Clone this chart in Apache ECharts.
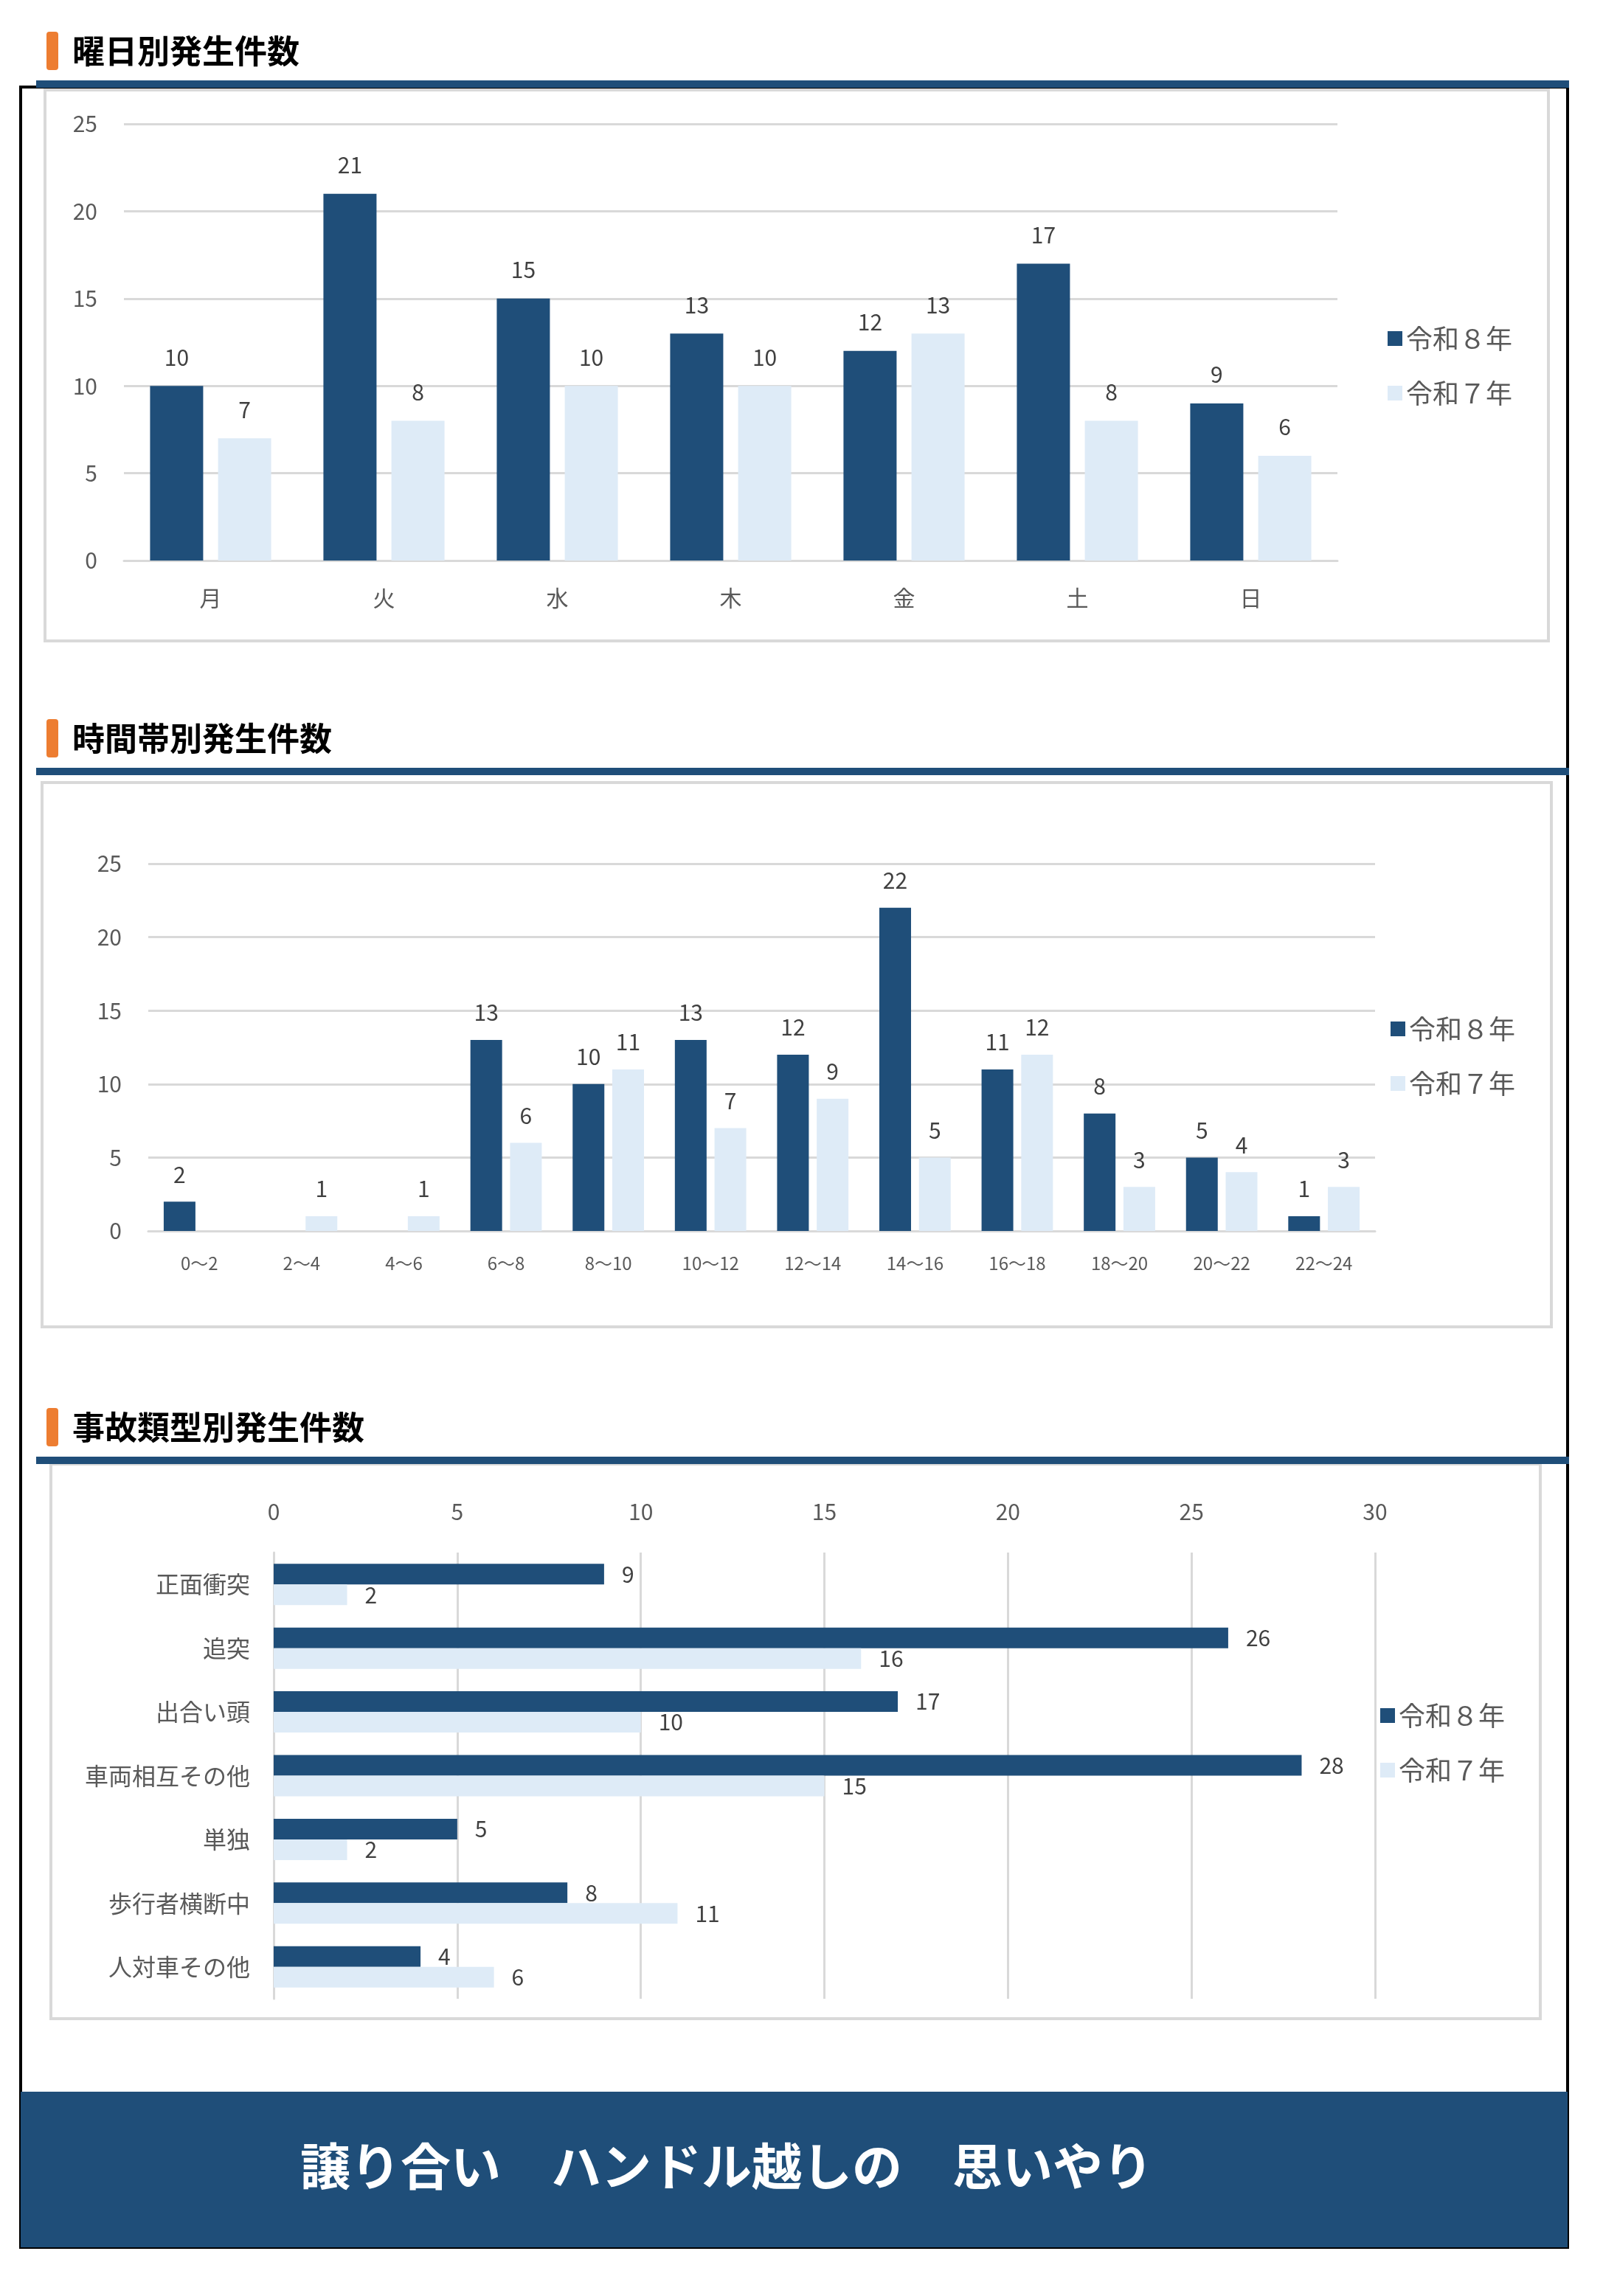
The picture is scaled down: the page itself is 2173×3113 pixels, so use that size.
<!DOCTYPE html>
<html><head><meta charset="utf-8">
<script src="https://cdn.jsdelivr.net/npm/echarts@6/dist/echarts.min.js"></script>
<style>html,body{margin:0;padding:0;background:#fff}#c{width:2173px;height:3113px}</style>
</head><body><div id="c"></div>
<script>
const seriesNames = ['令和８年','令和７年'];
const dayCats = ['月','火','水','木','金','土','日'];
const dayR8 = [10,21,15,13,12,17,9];
const dayR7 = [7,8,10,10,13,8,6];
const timeCats = ['0～2','2～4','4～6','6～8','8～10','10～12','12～14','14～16','16～18','18～20','20～22','22～24'];
const timeR8 = [2,0,0,13,10,13,12,22,11,8,5,1];
const timeR7 = [0,1,1,6,11,7,9,5,12,3,4,3];
const typeCats = ['正面衝突','追突','出合い頭','車両相互その他','単独','歩行者横断中','人対車その他'];
const typeR8 = [9,26,17,28,5,8,4];
const typeR7 = [2,16,10,15,2,11,6];

const DARK='#1f4e79', LIGHT='#deebf7', GRID='#d9d9d9', TXT='#404040';
const FF='"Noto Sans CJK JP", sans-serif';
const chart = echarts.init(document.getElementById('c'));

function lbl(pos,d){return {show:true,position:pos,distance:d,fontSize:30,color:TXT,fontFamily:FF,formatter:p=>p.value===0?'':p.value};}
function title(y,text){
  return [
    {type:'rect',shape:{x:63,y:y-26,width:16,height:52,r:4},style:{fill:'#ed7d31'}},
    {type:'text',x:98,y:y,style:{text:text,fontSize:44,fontWeight:'bold',fontFamily:FF,fill:'#000',textVerticalAlign:'middle'}},
    {type:'rect',shape:{x:49,y:y+40,width:2078,height:10},style:{fill:DARK}}
  ];
}
const graphic = [
  {type:'rect',shape:{x:28,y:118,width:2097,height:2929},style:{fill:'none',stroke:'#000',lineWidth:4},z:-1},
  {type:'rect',shape:{x:61,y:122,width:2038,height:747},style:{fill:'none',stroke:'#d9d9d9',lineWidth:4}},
  {type:'rect',shape:{x:57,y:1061,width:2046,height:738},style:{fill:'none',stroke:'#d9d9d9',lineWidth:4}},
  {type:'rect',shape:{x:69,y:1985,width:2019,height:752},style:{fill:'none',stroke:'#d9d9d9',lineWidth:4}},
  ...title(69,'曜日別発生件数'),
  ...title(1001,'時間帯別発生件数'),
  ...title(1935,'事故類型別発生件数'),
  {type:'rect',shape:{x:28,y:2836,width:2097,height:211},style:{fill:DARK}},
  {type:'text',x:985,y:2937,style:{text:'譲り合い　ハンドル越しの　思いやり',fontSize:68,fontWeight:'bold',fontFamily:FF,fill:'#fff',textAlign:'center',textVerticalAlign:'middle'}}
];
const axLab={fontSize:30,color:'#595959',fontFamily:FF};
const legendBase={orient:'vertical',itemWidth:20,itemHeight:20,itemGap:38,textStyle:{fontSize:36,color:'#595959',fontFamily:FF},data:seriesNames,icon:'rect'};

chart.setOption({
  animation:false,
  graphic:graphic,
  legend:[
    Object.assign({left:1876,top:436},legendBase),
    Object.assign({left:1880,top:1372},legendBase),
    Object.assign({left:1866,top:2303},legendBase)
  ],
  grid:[
    {left:168,right:2173-1813,top:168,height:592},
    {left:201,right:2173-1864,top:1171,height:498},
    {left:371,right:2173-1864,top:2105,height:605}
  ],
  xAxis:[
    {gridIndex:0,type:'category',data:dayCats,axisTick:{show:false},axisLine:{lineStyle:{color:GRID,width:3}},axisLabel:Object.assign({margin:36},axLab)},
    {gridIndex:1,type:'category',data:timeCats,axisTick:{show:false},axisLine:{lineStyle:{color:GRID,width:3}},axisLabel:Object.assign({margin:32},axLab,{fontSize:24})},
    {gridIndex:2,type:'value',position:'top',min:0,max:30,interval:5,axisLabel:Object.assign({margin:40},axLab),splitLine:{lineStyle:{color:GRID,width:3}}}
  ],
  yAxis:[
    {gridIndex:0,type:'value',min:0,max:25,interval:5,axisLabel:Object.assign({margin:36},axLab),splitLine:{lineStyle:{color:GRID,width:3}}},
    {gridIndex:1,type:'value',min:0,max:25,interval:5,axisLabel:Object.assign({margin:36},axLab),splitLine:{lineStyle:{color:GRID,width:3}}},
    {gridIndex:2,type:'category',inverse:true,data:typeCats,axisTick:{show:false},axisLine:{show:true,lineStyle:{color:GRID,width:3}},axisLabel:Object.assign({margin:32},axLab,{fontSize:32})}
  ],
  series:[
    {name:seriesNames[0],type:'bar',xAxisIndex:0,yAxisIndex:0,data:dayR8,barWidth:72,barGap:'28%',itemStyle:{color:DARK},label:lbl('top',24)},
    {name:seriesNames[1],type:'bar',xAxisIndex:0,yAxisIndex:0,data:dayR7,barWidth:72,barGap:'28%',itemStyle:{color:LIGHT},label:lbl('top',24)},
    {name:seriesNames[0],type:'bar',xAxisIndex:1,yAxisIndex:1,data:timeR8,barWidth:43,barGap:'25%',itemStyle:{color:DARK},label:lbl('top',22)},
    {name:seriesNames[1],type:'bar',xAxisIndex:1,yAxisIndex:1,data:timeR7,barWidth:43,barGap:'25%',itemStyle:{color:LIGHT},label:lbl('top',22)},
    {name:seriesNames[0],type:'bar',xAxisIndex:2,yAxisIndex:2,data:typeR8,barWidth:28,barGap:'0%',itemStyle:{color:DARK},label:lbl('right',24)},
    {name:seriesNames[1],type:'bar',xAxisIndex:2,yAxisIndex:2,data:typeR7,barWidth:28,barGap:'0%',itemStyle:{color:LIGHT},label:lbl('right',24)}
  ]
});
</script></body></html>
